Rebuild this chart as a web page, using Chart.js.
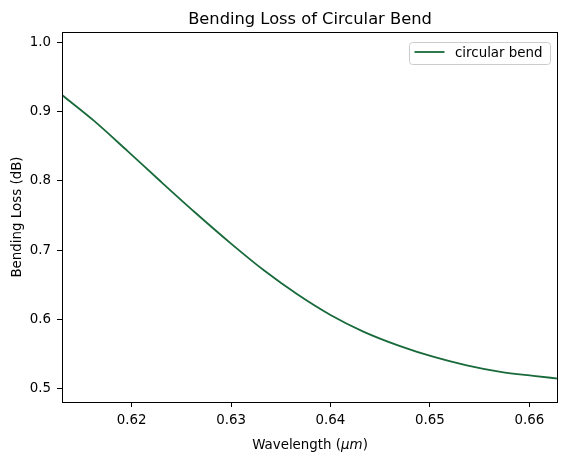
<!DOCTYPE html>
<html>
<head>
<meta charset="utf-8">
<script src="https://cdn.jsdelivr.net/npm/chart.js@4.4.1/dist/chart.umd.min.js"></script>
<style>
  html, body { margin: 0; padding: 0; background: #fff; }
  #wrap { width: 567px; height: 459px; position: relative; }
</style>
</head>
<body>
<div id="wrap"><canvas id="bendChart"></canvas></div>
<script>
// wavelength (um) and bending loss (dB)
const wavelength = [0.613, 0.6162, 0.6196, 0.6229, 0.6263, 0.6300, 0.6333, 0.6367,
  0.6400, 0.6433, 0.6470, 0.6504, 0.6537, 0.6571, 0.6604, 0.6630]
const bendingLoss = [0.924, 0.887, 0.843, 0.7995, 0.7555, 0.7095, 0.671, 0.636,
  0.6065, 0.5825, 0.5615, 0.5458, 0.5336, 0.5242, 0.5185, 0.5145]
const xTicks = [0.62, 0.63, 0.64, 0.65, 0.66]
const yTicks = [0.5, 0.6, 0.7, 0.8, 0.9, 1.0]
const seriesName = 'circular bend'
const lineColor = '#186a3b'
const fontFamily = '"DejaVu Sans", sans-serif'
const fontSize = 13.4

// frame, title, x label with italic unit, and the legend box
const decorations = {
  id: 'decorations',
  afterDraw(chart) {
    const c = chart.ctx
    const a = chart.chartArea
    c.save()
    c.strokeStyle = '#000'
    c.lineWidth = 1
    c.strokeRect(Math.round(a.left) + 0.5, Math.round(a.top) + 0.5,
      Math.round(a.right - a.left) - 1, Math.round(a.bottom - a.top))

    c.fillStyle = '#000'
    c.font = '16.3px ' + fontFamily
    c.textAlign = 'center'
    c.textBaseline = 'alphabetic'
    c.fillText('Bending Loss of Circular Bend', (a.left + a.right) / 2, 23.5)

    // x axis label: Wavelength (μm) with μm in italics
    const parts = [['Wavelength (', ''], ['\u03bcm', 'italic '], [')', '']]
    let total = 0
    parts.forEach(p => { c.font = p[1] + fontSize + 'px ' + fontFamily; total += c.measureText(p[0]).width })
    let x = (a.left + a.right) / 2 - total / 2
    c.textAlign = 'left'
    parts.forEach(p => {
      c.font = p[1] + fontSize + 'px ' + fontFamily
      c.fillText(p[0], x, 449)
      x += c.measureText(p[0]).width
    })

    // legend
    const bx = 409.5, by = 42.5, bw = 141, bh = 22
    c.fillStyle = 'rgba(255,255,255,0.8)'
    c.strokeStyle = '#cccccc'
    c.beginPath()
    c.roundRect(bx, by, bw, bh, 3)
    c.fill()
    c.stroke()
    const ds = chart.data.datasets[0]
    c.strokeStyle = ds.borderColor
    c.lineWidth = ds.borderWidth
    c.beginPath()
    c.moveTo(414.5, 52)
    c.lineTo(444.5, 52)
    c.stroke()
    c.fillStyle = '#000'
    c.font = fontSize + 'px ' + fontFamily
    c.fillText(ds.label, 455, 56.5)
    c.restore()
  }
}

const ctx = document.getElementById('bendChart')

const bendChart = new Chart(ctx, {
  type: 'line',
  data: {
    datasets: [{
      label: seriesName,
      data: wavelength.map((w, i) => ({ x: w, y: bendingLoss[i] })),
      borderColor: lineColor,
      borderWidth: 1.8,
      pointRadius: 0,
      fill: false,
      cubicInterpolationMode: 'monotone'
    }]
  },
  options: {
    responsive: true,
    maintainAspectRatio: false,
    animation: false,
    layout: {
      padding: { top: 32, right: 9, left: 0, bottom: 0 }
    },
    plugins: {
      legend: { display: false },
      title: { display: false },
      tooltip: { enabled: false }
    },
    scales: {
      x: {
        type: 'linear',
        min: 0.613,
        max: 0.66288,
        afterBuildTicks(scale) { scale.ticks = xTicks.map(v => ({ value: v })) },
        afterFit(scale) { scale.height = 57 },
        grid: { drawOnChartArea: false, tickLength: 5, color: '#000', tickColor: '#000' },
        border: { display: false },
        ticks: {
          color: '#000',
          padding: 5,
          maxRotation: 0,
          font: { family: fontFamily, size: fontSize },
          callback: v => v.toFixed(2)
        }
      },
      y: {
        min: 0.4808,
        max: 1.015,
        afterBuildTicks(scale) { scale.ticks = yTicks.map(v => ({ value: v })) },
        afterFit(scale) { scale.width = 62 },
        grid: { drawOnChartArea: false, tickLength: 5, color: '#000', tickColor: '#000' },
        border: { display: false },
        title: {
          display: true,
          text: 'Bending Loss (dB)',
          color: '#000',
          padding: { top: 9, bottom: 4 },
          font: { family: fontFamily, size: fontSize }
        },
        ticks: {
          color: '#000',
          padding: 6,
          font: { family: fontFamily, size: fontSize },
          callback: v => v.toFixed(1)
        }
      }
    }
  },
  plugins: [decorations]
})
</script>
</body>
</html>
